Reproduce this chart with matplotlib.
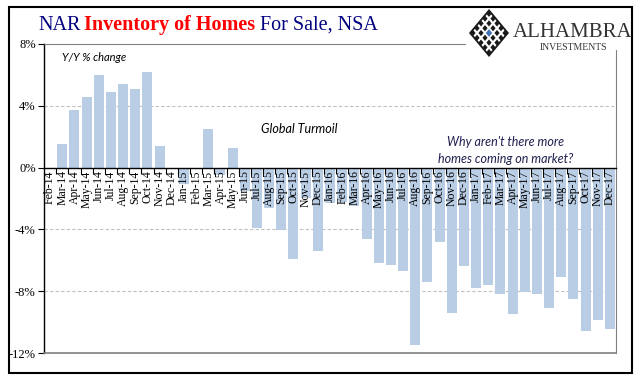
import matplotlib
matplotlib.use('Agg')
import matplotlib.pyplot as plt
from matplotlib.patches import Rectangle, Polygon
from matplotlib.ticker import FixedLocator
import numpy as np

# ---------------- data ----------------
months = ['Feb-14', 'Mar-14', 'Apr-14', 'May-14', 'Jun-14', 'Jul-14', 'Aug-14', 'Sep-14',
          'Oct-14', 'Nov-14', 'Dec-14', 'Jan-15', 'Feb-15', 'Mar-15', 'Apr-15', 'May-15',
          'Jun-15', 'Jul-15', 'Aug-15', 'Sep-15', 'Oct-15', 'Nov-15', 'Dec-15', 'Jan-16',
          'Feb-16', 'Mar-16', 'Apr-16', 'May-16', 'Jun-16', 'Jul-16', 'Aug-16', 'Sep-16',
          'Oct-16', 'Nov-16', 'Dec-16', 'Jan-17', 'Feb-17', 'Mar-17', 'Apr-17', 'May-17',
          'Jun-17', 'Jul-17', 'Aug-17', 'Sep-17', 'Oct-17', 'Nov-17', 'Dec-17']
yoy_change = [0.0, 1.5, 3.7, 4.6, 6.0, 4.9, 5.4, 5.1,
              6.2, 1.4, 0.0, -1.06, 0.0, 2.5, -0.5, 1.3,
              -1.5, -3.9, -2.6, -4.05, -5.9, -2.0, -5.4, -2.3,
              -2.25, -2.5, -4.6, -6.2, -6.3, -6.7, -11.5, -7.4,
              -4.8, -9.4, -6.35, -7.8, -7.6, -8.2, -9.5, -8.05,
              -8.15, -9.1, -7.05, -8.5, -10.55, -9.85, -10.45]
y_ticks = [8, 4, 0, -4, -8, -12]
y_tick_labels = ['8%', '4%', '0%', '-4%', '-8%', '-12%']
grid_levels = [4, -4, -8]

title_parts = [('NAR', '#000080', 'normal'),
               ('Inventory of Homes', '#FF0000', 'bold'),
               ('For Sale, NSA', '#000080', 'normal')]

# ---------------- figure ----------------
W, H = 641, 384
fig = plt.figure(figsize=(W / 100, H / 100), dpi=100)


def fx(px):
    return px / W


def fy(py):
    return 1 - py / H


serif = 'Liberation Serif'
ax = fig.add_axes([fx(44), fy(353), fx(616) - fx(44), fy(44) - fy(353)])
x = np.arange(len(months))
ax.bar(x, yoy_change, width=0.82, color='#B9CDE5', zorder=2)
ax.set_xlim(-0.5, len(months) - 0.5)
ax.set_ylim(-12, 8)
for g in grid_levels:
    ax.axhline(g, linestyle=(0, (3, 2)), color='#C0C0C0', linewidth=0.8, zorder=0.5)
ax.set_axisbelow(False)

# y axis
ax.set_yticks(y_ticks)
ax.set_yticklabels(y_tick_labels, fontfamily=serif, fontsize=9, color='black')
ax.tick_params(axis='y', direction='out', length=4, width=0.8, pad=2, color='black')

# x axis at zero
ax.spines['bottom'].set_position(('data', 0))
ax.spines['bottom'].set_color('black')
ax.spines['bottom'].set_linewidth(1.0)
ax.set_xticks(x)
ax.set_xticklabels(months, rotation=90, fontfamily=serif, fontsize=8.5, va='top')
ax.tick_params(axis='x', which='major', length=0, pad=2)
ax.xaxis.set_minor_locator(FixedLocator(x[1:] - 0.5))
ax.tick_params(axis='x', which='minor', length=4, width=0.8, direction='out', color='black')

ax.spines['left'].set_color('black')
ax.spines['left'].set_linewidth(1.0)
ax.spines['top'].set_color('#808080')
ax.spines['top'].set_bounds(-0.5, 34.1)
ax.spines['right'].set_color('#808080')
ax.spines['right'].set_bounds(-12, 7.6)
ax.axhline(-12, color='#808080', linewidth=1.2, zorder=3, clip_on=False)

# annotations
ax.text(0.031, 0.975, 'Y/Y % change', transform=ax.transAxes, fontfamily='Lato',
        style='italic', fontsize=8, va='top', ha='left')
ax.text(20.5, 2.5, 'Global Turmoil', fontfamily='Lato', style='italic', fontsize=9,
        ha='center', va='center')
ax.text(37.4, 1.1, "Why aren't there more\nhomes coming on market?", fontfamily='Lato',
        style='italic', fontsize=9, ha='center', va='center', color='#1F1F50',
        linespacing=1.5)

# outer frame
fig.add_artist(Rectangle((fx(9), fy(373)), fx(632) - fx(9), fy(7) - fy(373),
                         transform=fig.transFigure, fill=False, edgecolor='black',
                         linewidth=1.5))

# title
renderer = fig.canvas.get_renderer()
cur = fx(38)
for text, color, weight in title_parts:
    t = fig.text(cur, fy(30), text, color=color, fontweight=weight, fontfamily=serif,
                 fontsize=14.5, va='baseline', ha='left')
    bb = t.get_window_extent(renderer)
    cur = fx(bb.x1 + 4)

# logo
cx, cy, hw, hh = 489, 33, 20, 24


def dpt(u, v):
    return (fx(cx + hw * (u + v) / 2), fy(cy + hh * (u - v) / 2))


def diamond(uc, vc, s, color, z):
    pts = [dpt(uc - s, vc - s), dpt(uc + s, vc - s), dpt(uc + s, vc + s), dpt(uc - s, vc + s)]
    fig.add_artist(Polygon(pts, closed=True, transform=fig.transFigure,
                           facecolor=color, edgecolor='none', zorder=z))


diamond(0, 0, 1.0, '#1A1A1A', 5)
diamond(0, 0, 0.88, 'white', 6)
for u in [-0.8, -0.4, 0.0, 0.4, 0.8]:
    for v in [-0.8, -0.4, 0.0, 0.4, 0.8]:
        if u == 0 and v == 0:
            diamond(u, v, 0.16, '#3F72B5', 7)
        else:
            diamond(u, v, 0.13, '#1A1A1A', 7)
fig.text(fx(573), fy(37), 'ALHAMBRA', fontfamily=serif, fontsize=15, color='#333333',
         ha='center', va='baseline')
fig.text(fx(573), fy(50), 'INVESTMENTS', fontfamily=serif, fontsize=7, color='#333333',
         ha='center', va='baseline')

fig.savefig('out.png', dpi=100)
